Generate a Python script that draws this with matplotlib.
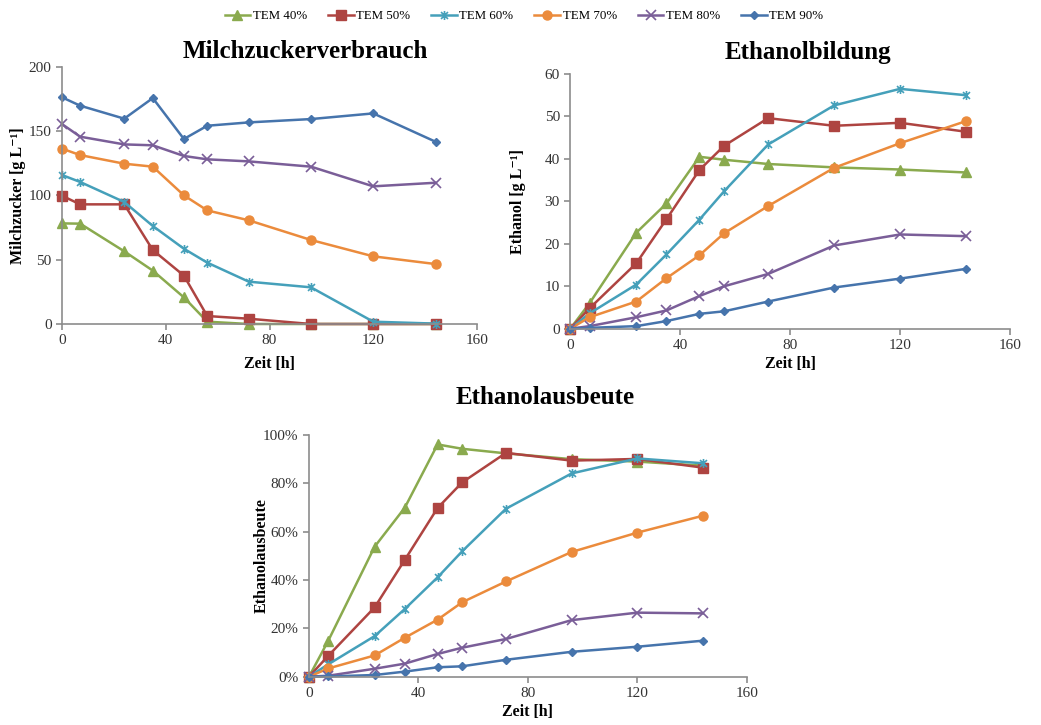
import matplotlib
matplotlib.use("Agg")
import matplotlib.pyplot as plt
from matplotlib.path import Path
from matplotlib.ticker import FuncFormatter

plt.rcParams['font.family'] = ['Liberation Serif', 'DejaVu Serif']

# Sampling times [h]
zeit = [0, 7, 24, 35, 47, 56, 72, 96, 120, 144]
serien = ['TEM 40%', 'TEM 50%', 'TEM 60%', 'TEM 70%', 'TEM 80%', 'TEM 90%']

# Lactose [g/L]
milchzucker = {
    'TEM 40%': [78.2, 78.0, 56.5, 41.5, 20.7, 1.8, 0.0, 0.0, 0.0, 0.0],
    'TEM 50%': [99.7, 93.0, 93.0, 57.5, 37.6, 6.2, 4.1, 0.0, 0.0, 0.0],
    'TEM 60%': [115.8, 110.4, 94.8, 76.2, 58.5, 47.7, 32.9, 28.5, 1.8, 0.3],
    'TEM 70%': [136.3, 131.3, 124.6, 122.3, 100.0, 88.3, 80.6, 65.3, 52.6, 46.6],
    'TEM 80%': [155.4, 145.6, 139.6, 138.9, 130.6, 128.0, 126.4, 122.3, 107.0, 109.8],
    'TEM 90%': [176.2, 169.7, 159.6, 175.6, 143.8, 154.1, 156.7, 159.3, 163.7, 141.7],
}

# Ethanol [g/L]
ethanol = {
    'TEM 40%': [0.0, 6.0, 22.6, 29.5, 40.5, 39.8, 38.8, 38.0, 37.5, 36.8],
    'TEM 50%': [0.0, 4.8, 15.4, 25.8, 37.4, 43.1, 49.6, 47.8, 48.5, 46.4],
    'TEM 60%': [0.0, 3.6, 10.4, 17.5, 25.7, 32.4, 43.4, 52.6, 56.5, 55.0],
    'TEM 70%': [0.0, 2.7, 6.4, 11.9, 17.3, 22.5, 28.9, 37.9, 43.7, 48.9],
    'TEM 80%': [0.0, 0.6, 2.7, 4.3, 7.7, 10.0, 12.9, 19.6, 22.2, 21.8],
    'TEM 90%': [0.0, 0.2, 0.6, 1.8, 3.5, 4.1, 6.4, 9.7, 11.8, 14.1],
}

# Ethanol yield [%]
ausbeute = {
    'TEM 40%': [0.0, 14.8, 53.8, 69.9, 96.1, 94.3, 92.4, 90.0, 89.0, 87.3],
    'TEM 50%': [0.0, 8.6, 28.7, 48.3, 69.8, 80.4, 92.6, 89.4, 90.1, 86.5],
    'TEM 60%': [0.0, 5.1, 16.8, 28.0, 41.1, 51.9, 69.5, 84.1, 90.3, 88.3],
    'TEM 70%': [0.0, 3.4, 8.8, 16.1, 23.6, 30.8, 39.4, 51.6, 59.6, 66.6],
    'TEM 80%': [0.0, 0.4, 3.3, 5.4, 9.4, 12.0, 15.6, 23.4, 26.5, 26.2],
    'TEM 90%': [0.0, 0.1, 0.7, 2.1, 3.9, 4.3, 7.0, 10.3, 12.4, 14.9],
}

# asterisk marker: x plus vertical bar
stern = Path([(-1, -1), (1, 1), (-1, 1), (1, -1), (0, -1.3), (0, 1.3)],
             [Path.MOVETO, Path.LINETO, Path.MOVETO, Path.LINETO, Path.MOVETO, Path.LINETO])

stil = {
    'TEM 40%': dict(color='#8AAA4E', marker='^', ms=6.5),
    'TEM 50%': dict(color='#AE4441', marker='s', ms=6.5),
    'TEM 60%': dict(color='#45A0BA', marker=stern, ms=6.5, mew=1.2),
    'TEM 70%': dict(color='#EB8B3C', marker='o', ms=6.5),
    'TEM 80%': dict(color='#7A5E98', marker='x', ms=6.5, mew=1.2),
    'TEM 90%': dict(color='#4674AC', marker='D', ms=4.5),
}

W, H = 1041, 725
fig = plt.figure(figsize=(W / 100, H / 100), dpi=100)


def box(x0, x1, ytop, ybot):
    return [x0 / W, 1 - ybot / H, (x1 - x0) / W, (ybot - ytop) / H]


def style_axes(ax, ymax, ystep):
    for s in ['top', 'right']:
        ax.spines[s].set_visible(False)
    for s in ['left', 'bottom']:
        ax.spines[s].set_color('#8c8c8c')
        ax.spines[s].set_linewidth(1.2)
    ax.set_xlim(0, 160)
    ax.set_xticks(range(0, 161, 40))
    ax.set_ylim(0, ymax)
    ax.set_yticks([i * ystep for i in range(int(ymax / ystep) + 1)])
    ax.tick_params(colors='#8c8c8c', labelcolor='#333333', labelsize=11,
                   length=4, width=1.2, direction='out')


def draw(ax, daten):
    linien = []
    for name in serien:
        st = dict(stil[name])
        l, = ax.plot(zeit, daten[name], lw=1.8, color=st.pop('color'),
                     marker=st.pop('marker'), markersize=st.pop('ms'),
                     clip_on=False, label=name, **st)
        linien.append(l)
    return linien


def ylabel_at(ax, text, xpix):
    # y label: its right edge sits at the given figure pixel column
    ax.set_ylabel(text, fontsize=11.5, fontweight='bold')
    x0 = ax.get_position().x0 * W
    w = ax.get_position().width * W
    ax.yaxis.set_label_coords((xpix - x0) / w, 0.5)


lab = dict(fontsize=11.5, fontweight='bold')

ax1 = fig.add_axes(box(62, 477, 66.7, 324))
linien = draw(ax1, milchzucker)
style_axes(ax1, 200, 50)
ylabel_at(ax1, 'Milchzucker [g L⁻¹]', 26)

ax2 = fig.add_axes(box(570.3, 1010, 74, 328.7))
draw(ax2, ethanol)
style_axes(ax2, 60, 10)
ylabel_at(ax2, 'Ethanol [g L⁻¹]', 526)
ax2.set_xlabel('Zeit [h]', labelpad=3, **lab)

ax3 = fig.add_axes(box(309, 746.7, 435, 676.7))
draw(ax3, ausbeute)
style_axes(ax3, 100, 20)
ax3.yaxis.set_major_formatter(FuncFormatter(lambda v, p: f'{v:.0f}%'))
ylabel_at(ax3, 'Ethanolausbeute', 270)
ax3.set_xlabel('Zeit [h]', labelpad=3, **lab)

tit = dict(ha='center', va='center', fontsize=18, fontweight='bold')
fig.text(305 / W, 1 - 52 / H, 'Milchzuckerverbrauch', **tit)
fig.text(808 / W, 1 - 52 / H, 'Ethanolbildung', **tit)
fig.text(545 / W, 1 - 397 / H, 'Ethanolausbeute', **tit)
fig.text(270 / W, 1 - 364 / H, 'Zeit [h]', ha='center', va='center', **lab)

fig.legend(handles=linien, loc='center', bbox_to_anchor=(524 / W, 1 - 16 / H),
           ncol=6, frameon=False, fontsize=9.3, handlelength=2.0,
           handletextpad=0.2, columnspacing=1.6)

fig.savefig('out.png', dpi=100)
